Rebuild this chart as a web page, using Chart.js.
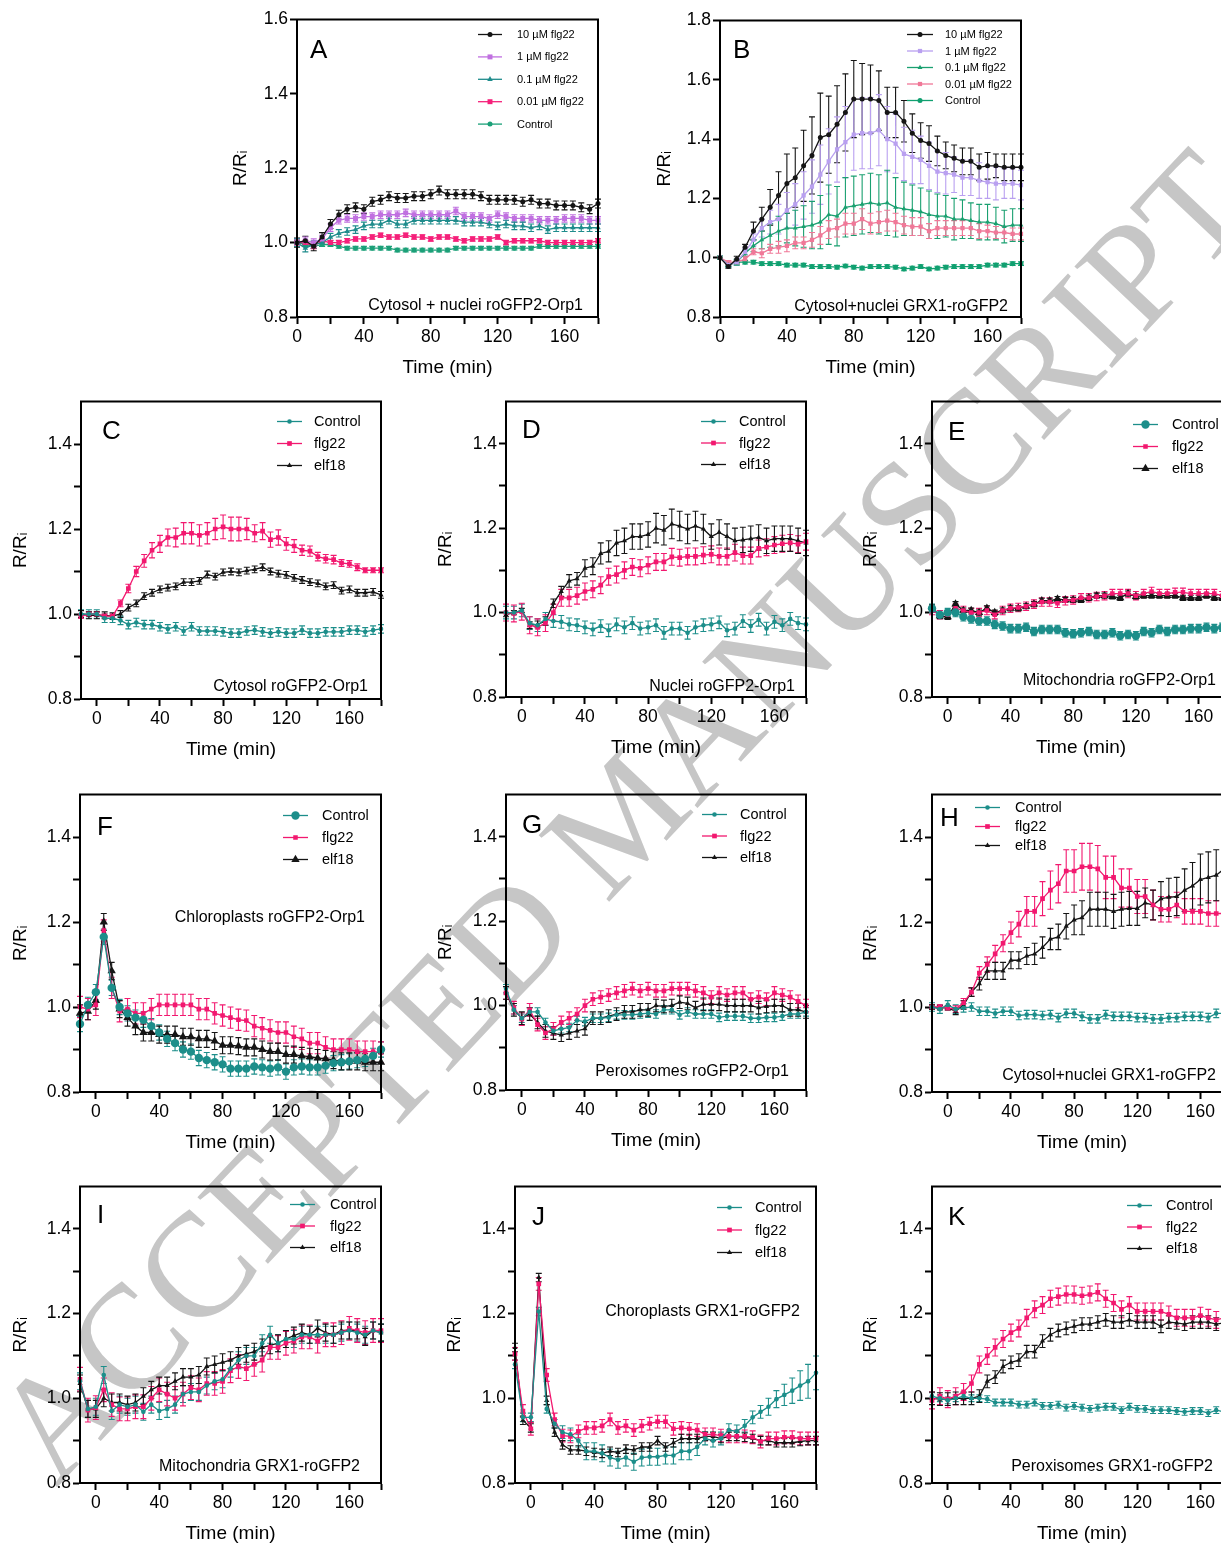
<!DOCTYPE html>
<html>
<head>
<meta charset="utf-8">
<script src="https://cdn.jsdelivr.net/npm/chart.js@4.4.1/dist/chart.umd.min.js"></script>
<style>
  html, body { margin: 0; padding: 0; background: #fff; }
  #page { position: relative; width: 1221px; height: 1546px; overflow: hidden; }
  #page canvas { position: absolute; z-index: 1; }
  #wm { position: absolute; left: 622px; top: 815px; transform: translate(-50%, -50%) rotate(-46.7deg);
        font: 148px "Liberation Serif", serif; color: #c6c6c6; white-space: nowrap; z-index: 0; }
</style>
</head>
<body>
<div id="page"><div id="wm">ACCEPTED MANUSCRIPT</div></div>
<script>
// time points (min)
const tAB = [0,5,10,15,20,25,30,35,40,45,50,55,60,65,70,75,80,85,90,95,100,105,110,115,120,125,130,135,140,145,150,155,160,165,170,175,180];
const tMain = [-10,-5,0,5,10,15,20,25,30,35,40,45,50,55,60,65,70,75,80,85,90,95,100,105,110,115,120,125,130,135,140,145,150,155,160,165,170,175,180];

// tick marks
const xTicks = [0,20,40,60,80,100,120,140,160,180];
const yTicksA = [0.8,1.0,1.2,1.4,1.6];
const yTicksB = [0.8,1.0,1.2,1.4,1.6,1.8];
const yTicksMain = [0.8,0.9,1.0,1.1,1.2,1.3,1.4];

// A: Cytosol + nuclei roGFP2-Orp1
const a10 = [1.00,1.005,0.99,1.015,1.05,1.075,1.09,1.095,1.09,1.11,1.115,1.125,1.12,1.12,1.125,1.125,1.13,1.14,1.13,1.13,1.13,1.13,1.125,1.115,1.115,1.115,1.115,1.11,1.115,1.105,1.105,1.10,1.10,1.10,1.095,1.09,1.105];
const a1 = [1.00,1.005,1.00,1.01,1.04,1.06,1.065,1.065,1.07,1.07,1.075,1.075,1.075,1.08,1.075,1.075,1.075,1.075,1.075,1.085,1.07,1.07,1.07,1.065,1.075,1.07,1.065,1.065,1.065,1.06,1.06,1.06,1.065,1.065,1.065,1.06,1.06];
const a01 = [1.00,0.985,0.995,1.00,1.015,1.025,1.03,1.035,1.045,1.05,1.05,1.06,1.05,1.05,1.06,1.06,1.06,1.06,1.06,1.06,1.055,1.055,1.055,1.05,1.045,1.05,1.045,1.045,1.04,1.045,1.035,1.04,1.04,1.04,1.04,1.04,1.04];
const a001 = [1.00,1.00,0.99,1.005,1.00,1.00,1.005,1.01,1.01,1.015,1.02,1.015,1.015,1.02,1.015,1.015,1.01,1.015,1.015,1.01,1.005,1.01,1.01,1.01,1.015,1.00,1.005,1.005,1.005,1.005,1.00,1.00,1.00,1.00,1.00,1.00,1.005];
const aCtrl = [1.00,0.995,0.99,0.995,0.995,0.99,0.985,0.985,0.985,0.985,0.985,0.985,0.98,0.98,0.98,0.98,0.98,0.98,0.98,0.985,0.985,0.985,0.985,0.985,0.985,0.985,0.985,0.985,0.985,0.99,0.99,0.99,0.99,0.99,0.99,0.99,0.99];

// B: Cytosol+nuclei GRX1-roGFP2
const b10 = [1.00,0.97,0.995,1.035,1.09,1.13,1.17,1.21,1.25,1.27,1.31,1.345,1.405,1.415,1.45,1.49,1.535,1.535,1.535,1.53,1.49,1.49,1.46,1.42,1.395,1.385,1.36,1.345,1.335,1.325,1.325,1.305,1.31,1.31,1.305,1.305,1.305];
const b10Err = [0,0.005,0.01,0.01,0.03,0.04,0.06,0.08,0.1,0.1,0.12,0.13,0.15,0.13,0.13,0.13,0.13,0.12,0.115,0.1,0.085,0.085,0.07,0.065,0.06,0.06,0.05,0.045,0.045,0.045,0.045,0.045,0.045,0.04,0.045,0.045,0.045];
const b1 = [1.00,0.975,0.985,1.02,1.06,1.10,1.12,1.13,1.16,1.18,1.21,1.24,1.28,1.325,1.365,1.39,1.415,1.42,1.42,1.43,1.40,1.385,1.35,1.34,1.33,1.31,1.29,1.285,1.28,1.27,1.27,1.26,1.255,1.25,1.25,1.25,1.245];
const b1Err = [0,0.005,0.01,0.01,0.02,0.03,0.04,0.05,0.06,0.07,0.08,0.09,0.1,0.11,0.11,0.12,0.12,0.12,0.12,0.12,0.11,0.1,0.09,0.09,0.08,0.08,0.07,0.07,0.06,0.06,0.06,0.06,0.055,0.055,0.05,0.05,0.05];
const b01 = [1.00,0.975,0.985,1.015,1.04,1.06,1.075,1.09,1.10,1.10,1.105,1.11,1.12,1.145,1.14,1.17,1.175,1.18,1.185,1.18,1.185,1.17,1.165,1.16,1.155,1.145,1.14,1.14,1.13,1.13,1.125,1.12,1.12,1.115,1.105,1.11,1.11];
const b01Err = [0,0.005,0.01,0.01,0.02,0.03,0.04,0.05,0.05,0.06,0.07,0.08,0.09,0.1,0.1,0.1,0.1,0.1,0.1,0.1,0.11,0.1,0.09,0.085,0.08,0.08,0.075,0.07,0.07,0.065,0.06,0.06,0.06,0.055,0.055,0.055,0.055];
const b001 = [1.00,0.985,0.985,0.995,1.02,1.015,1.03,1.035,1.04,1.05,1.05,1.06,1.075,1.095,1.10,1.115,1.115,1.13,1.115,1.12,1.125,1.12,1.11,1.105,1.105,1.09,1.10,1.10,1.10,1.10,1.10,1.09,1.09,1.085,1.085,1.08,1.08];
const b001Err = [0,0.005,0.005,0.01,0.01,0.015,0.015,0.02,0.02,0.02,0.02,0.025,0.03,0.03,0.03,0.035,0.035,0.035,0.035,0.035,0.035,0.03,0.03,0.03,0.03,0.025,0.025,0.025,0.025,0.025,0.025,0.025,0.02,0.02,0.02,0.02,0.02];
const bCtrl = [1.00,0.975,0.985,0.985,0.985,0.98,0.98,0.98,0.975,0.975,0.975,0.97,0.97,0.97,0.968,0.972,0.968,0.965,0.97,0.97,0.97,0.968,0.962,0.965,0.97,0.962,0.965,0.968,0.97,0.97,0.97,0.97,0.975,0.975,0.975,0.98,0.98];

// C: Cytosol roGFP2-Orp1
const cCtrl = [1.00,1.00,1.00,0.99,0.99,0.985,0.975,0.98,0.975,0.975,0.97,0.965,0.97,0.96,0.97,0.96,0.96,0.96,0.958,0.955,0.955,0.96,0.962,0.958,0.955,0.958,0.955,0.955,0.962,0.955,0.955,0.958,0.958,0.958,0.962,0.962,0.958,0.962,0.965];
const cFlg = [0.995,1.00,1.00,0.995,0.995,1.025,1.06,1.10,1.125,1.15,1.165,1.18,1.18,1.19,1.19,1.185,1.19,1.20,1.205,1.20,1.20,1.20,1.19,1.195,1.175,1.18,1.165,1.16,1.15,1.148,1.135,1.13,1.128,1.12,1.118,1.11,1.103,1.103,1.103];
const cFlgErr = [0.005,0.005,0.005,0.005,0.005,0.008,0.01,0.012,0.015,0.018,0.02,0.02,0.022,0.025,0.025,0.025,0.025,0.025,0.028,0.028,0.028,0.025,0.02,0.02,0.018,0.018,0.015,0.015,0.012,0.012,0.01,0.01,0.01,0.008,0.008,0.008,0.006,0.006,0.006];
const cElf = [1.00,0.997,0.997,0.997,0.995,1.00,1.015,1.025,1.042,1.05,1.058,1.062,1.065,1.075,1.075,1.078,1.093,1.088,1.098,1.10,1.098,1.102,1.105,1.11,1.10,1.095,1.092,1.085,1.08,1.075,1.072,1.065,1.068,1.055,1.058,1.05,1.05,1.052,1.045];

// D: Nuclei roGFP2-Orp1
const dCtrl = [1.00,1.00,1.005,0.975,0.97,0.985,0.98,0.978,0.972,0.97,0.965,0.96,0.968,0.958,0.972,0.965,0.975,0.962,0.965,0.97,0.952,0.962,0.962,0.952,0.965,0.97,0.972,0.977,0.958,0.962,0.98,0.968,0.983,0.962,0.978,0.97,0.985,0.975,0.972];
const dFlg = [1.00,0.998,1.002,0.97,0.965,0.975,1.00,1.035,1.035,1.04,1.05,1.055,1.065,1.085,1.09,1.10,1.108,1.105,1.112,1.12,1.12,1.132,1.13,1.133,1.133,1.136,1.138,1.133,1.133,1.142,1.135,1.135,1.152,1.155,1.16,1.163,1.165,1.162,1.168];
const dElf = [0.995,1.00,1.005,0.97,0.972,0.98,1.022,1.05,1.075,1.08,1.105,1.11,1.14,1.145,1.165,1.17,1.18,1.18,1.185,1.20,1.195,1.21,1.205,1.198,1.205,1.198,1.18,1.19,1.18,1.17,1.172,1.175,1.178,1.17,1.175,1.175,1.175,1.17,1.165];
const dElfErr = [0.005,0.005,0.005,0.008,0.008,0.01,0.01,0.012,0.015,0.015,0.02,0.02,0.025,0.025,0.03,0.03,0.03,0.03,0.03,0.035,0.035,0.035,0.035,0.035,0.035,0.035,0.03,0.03,0.03,0.03,0.03,0.03,0.03,0.03,0.03,0.03,0.03,0.03,0.03];

// E: Mitochondria roGFP2-Orp1
const eCtrl = [1.01,0.995,1.00,1.00,0.99,0.985,0.98,0.98,0.972,0.968,0.962,0.962,0.965,0.955,0.96,0.96,0.96,0.952,0.95,0.952,0.955,0.948,0.948,0.952,0.945,0.948,0.945,0.955,0.952,0.96,0.955,0.96,0.96,0.962,0.962,0.965,0.962,0.965,0.965];
const eFlg = [1.005,0.995,0.995,1.01,1.005,1.00,1.00,1.005,0.995,1.005,1.01,1.012,1.015,1.02,1.025,1.025,1.022,1.028,1.03,1.035,1.035,1.038,1.04,1.045,1.045,1.045,1.04,1.045,1.05,1.045,1.045,1.048,1.048,1.045,1.045,1.045,1.045,1.04,1.04];
const eElf = [1.012,0.992,0.99,1.02,1.005,1.005,1.00,1.01,1.00,1.005,1.01,1.01,1.015,1.02,1.028,1.028,1.032,1.03,1.03,1.03,1.035,1.04,1.04,1.038,1.035,1.045,1.038,1.04,1.04,1.04,1.04,1.04,1.035,1.035,1.035,1.04,1.035,1.035,1.035];

// F: Chloroplasts roGFP2-Orp1
const fCtrl = [0.96,1.005,1.035,1.165,1.045,1.00,0.985,0.975,0.97,0.955,0.94,0.925,0.915,0.90,0.895,0.88,0.875,0.87,0.865,0.855,0.855,0.855,0.86,0.858,0.855,0.858,0.848,0.858,0.86,0.858,0.858,0.862,0.868,0.87,0.872,0.875,0.878,0.885,0.90];
const fFlg = [1.00,0.995,1.005,1.18,1.045,0.99,0.995,0.985,0.985,0.995,1.005,1.005,1.005,1.005,1.005,0.995,0.995,0.985,0.98,0.975,0.97,0.968,0.955,0.95,0.945,0.94,0.94,0.93,0.925,0.915,0.915,0.905,0.90,0.90,0.90,0.895,0.895,0.895,0.893];
const fElf = [0.985,0.99,1.015,1.20,1.085,0.995,0.975,0.955,0.94,0.94,0.935,0.935,0.935,0.93,0.93,0.925,0.925,0.92,0.91,0.91,0.908,0.905,0.905,0.90,0.895,0.895,0.888,0.888,0.885,0.883,0.88,0.878,0.875,0.872,0.872,0.872,0.87,0.87,0.87];

// G: Peroxisomes roGFP2-Orp1
const gCtrl = [1.04,0.99,0.97,0.985,0.985,0.96,0.94,0.945,0.948,0.965,0.962,0.97,0.97,0.972,0.978,0.978,0.978,0.98,0.982,0.98,0.99,0.99,0.978,0.985,0.98,0.98,0.98,0.972,0.975,0.975,0.975,0.97,0.97,0.972,0.972,0.975,0.98,0.98,0.985];
const gFlg = [1.03,0.995,0.968,0.99,0.955,0.935,0.945,0.96,0.97,0.98,1.00,1.015,1.02,1.025,1.03,1.035,1.04,1.035,1.04,1.035,1.035,1.04,1.04,1.04,1.035,1.03,1.02,1.03,1.025,1.03,1.03,1.015,1.02,1.015,1.03,1.025,1.02,1.01,1.00];
const gElf = [1.03,0.99,0.97,0.98,0.96,0.94,0.935,0.93,0.935,0.94,0.945,0.97,0.97,0.975,0.98,0.985,0.985,0.99,0.99,1.00,0.998,1.00,1.008,1.005,0.995,1.003,1.003,1.003,1.00,1.00,1.00,1.00,0.995,0.998,1.00,1.00,0.99,0.99,0.985];

// H: Cytosol+nuclei GRX1-roGFP2
const hCtrl = [1.00,0.995,1.005,0.995,0.998,1.00,0.99,0.99,0.985,0.99,0.99,0.98,0.982,0.982,0.98,0.982,0.975,0.985,0.985,0.978,0.972,0.972,0.982,0.978,0.978,0.978,0.975,0.975,0.972,0.972,0.975,0.975,0.978,0.978,0.978,0.975,0.985,0.985,0.985];
const hFlg = [1.00,1.00,0.998,0.995,1.01,1.035,1.08,1.10,1.125,1.15,1.175,1.195,1.225,1.225,1.255,1.275,1.29,1.32,1.32,1.33,1.33,1.325,1.305,1.305,1.28,1.28,1.26,1.26,1.24,1.23,1.23,1.24,1.225,1.225,1.225,1.22,1.22,1.22,1.22];
const hFlgErr = [0.005,0.005,0.005,0.008,0.01,0.01,0.015,0.018,0.02,0.02,0.025,0.03,0.035,0.035,0.04,0.045,0.045,0.05,0.05,0.055,0.055,0.055,0.05,0.05,0.045,0.045,0.04,0.04,0.035,0.03,0.03,0.03,0.03,0.03,0.03,0.03,0.03,0.03,0.03];
const hElf = [1.00,0.998,0.998,0.99,1.005,1.035,1.055,1.085,1.085,1.085,1.11,1.11,1.12,1.125,1.14,1.16,1.165,1.19,1.205,1.21,1.23,1.23,1.23,1.225,1.23,1.232,1.232,1.245,1.24,1.255,1.258,1.26,1.275,1.285,1.30,1.305,1.31,1.325,1.335];
const hElfErr = [0.005,0.005,0.005,0.008,0.01,0.01,0.015,0.02,0.02,0.02,0.02,0.02,0.02,0.025,0.025,0.025,0.03,0.03,0.035,0.04,0.04,0.04,0.04,0.04,0.04,0.04,0.04,0.035,0.035,0.04,0.045,0.045,0.05,0.055,0.06,0.06,0.06,0.06,0.06];

// I: Mitochondria GRX1-roGFP2
const iCtrl = [1.04,0.975,0.98,1.055,0.97,0.985,0.98,0.985,0.968,0.985,0.97,0.975,0.985,1.01,1.015,1.015,1.03,1.04,1.045,1.07,1.09,1.10,1.10,1.13,1.15,1.13,1.14,1.14,1.15,1.15,1.15,1.15,1.15,1.155,1.16,1.155,1.15,1.16,1.155];
const iFlg = [1.045,0.972,0.978,1.02,0.985,0.975,0.975,0.98,0.98,1.00,1.02,1.01,1.00,1.01,1.025,1.02,1.035,1.035,1.04,1.065,1.075,1.07,1.08,1.09,1.12,1.12,1.13,1.135,1.145,1.145,1.135,1.15,1.15,1.155,1.165,1.16,1.155,1.16,1.16];
const iElf = [1.035,0.975,0.975,1.00,0.99,0.99,0.985,0.99,1.005,1.02,1.03,1.03,1.04,1.05,1.05,1.055,1.075,1.08,1.085,1.09,1.10,1.105,1.11,1.12,1.125,1.13,1.14,1.148,1.155,1.15,1.165,1.155,1.15,1.16,1.16,1.16,1.145,1.16,1.155];

// J: Choroplasts GRX1-roGFP2
const jCtrl = [1.08,0.955,0.955,1.205,0.975,0.94,0.92,0.915,0.90,0.875,0.875,0.87,0.86,0.855,0.86,0.85,0.86,0.862,0.862,0.865,0.865,0.875,0.875,0.885,0.905,0.90,0.905,0.925,0.922,0.935,0.955,0.968,0.98,0.998,1.008,1.018,1.03,1.04,1.06];
const jCtrlErr = [0.01,0.01,0.01,0.01,0.01,0.01,0.015,0.015,0.015,0.02,0.02,0.02,0.02,0.02,0.02,0.02,0.02,0.02,0.02,0.02,0.02,0.02,0.02,0.02,0.015,0.015,0.015,0.015,0.015,0.015,0.015,0.015,0.02,0.02,0.025,0.03,0.035,0.04,0.04];
const jFlg = [1.105,0.97,0.928,1.27,1.055,0.95,0.912,0.91,0.922,0.93,0.93,0.935,0.95,0.93,0.935,0.925,0.935,0.94,0.945,0.945,0.928,0.93,0.928,0.925,0.915,0.915,0.912,0.91,0.91,0.91,0.908,0.898,0.905,0.905,0.908,0.908,0.905,0.905,0.905];
const jElf = [1.12,0.948,0.93,1.285,0.995,0.92,0.89,0.878,0.878,0.875,0.872,0.87,0.875,0.872,0.88,0.878,0.885,0.885,0.90,0.885,0.895,0.905,0.905,0.905,0.91,0.91,0.905,0.91,0.91,0.908,0.905,0.90,0.90,0.895,0.895,0.895,0.898,0.90,0.90];

// K: Peroxisomes GRX1-roGFP2
const kCtrl = [1.005,1.00,0.995,1.00,1.005,1.00,1.00,0.998,0.99,0.99,0.99,0.985,0.985,0.99,0.982,0.982,0.985,0.978,0.982,0.978,0.975,0.978,0.98,0.98,0.972,0.98,0.975,0.975,0.972,0.972,0.972,0.97,0.968,0.97,0.97,0.965,0.972,0.968,0.968];
const kFlg = [0.995,1.005,0.998,1.005,1.015,1.035,1.08,1.10,1.12,1.14,1.155,1.165,1.19,1.21,1.22,1.235,1.24,1.245,1.245,1.242,1.245,1.25,1.235,1.225,1.21,1.22,1.205,1.205,1.205,1.205,1.198,1.19,1.19,1.19,1.195,1.19,1.185,1.19,1.19];
const kElf = [1.00,0.998,0.998,1.00,1.00,1.00,1.005,1.04,1.05,1.075,1.085,1.09,1.11,1.11,1.135,1.15,1.16,1.165,1.17,1.175,1.175,1.18,1.185,1.18,1.18,1.185,1.18,1.18,1.18,1.17,1.18,1.178,1.175,1.18,1.18,1.18,1.175,1.178,1.178];

const FONT = '"Liberation Sans", Arial, Helvetica, sans-serif';
Chart.defaults.font.family = FONT;
Chart.defaults.color = '#000';

const TEAL = '#1c8e8a', PINK = '#f2186f', BLACK = '#151515';

function trio(ctrl, flg, elf, ctrlErr, flgErr, elfErr, big) {
  return [
    { label: 'Control', y: ctrl, err: ctrlErr, color: TEAL, style: 'circle', r: big ? 4.2 : 2.3 },
    { label: 'flg22', y: flg, err: flgErr, color: PINK, style: 'rect', r: big ? 3.2 : 3.3 },
    { label: 'elf18', y: elf, err: elfErr, color: BLACK, style: 'triangle', r: big ? 4.8 : 3 }
  ];
}

const panels = [
  { letter: 'A', box: [297, 17, 598, 317], time: tAB, xmin: 0, ymin: 0.8, ymax: 1.6, yTicks: yTicksA,
    letterPos: [13, 38], note: 'Cytosol + nuclei roGFP2-Orp1', notePos: [15, 290], yTitlePad: 12,
    legend: { dx: 181, dy: 15, sp: 22.4, len: 24, gap: 39, size: 11 },
    series: [
      { label: '10 µM flg22', y: a10, err: 0.012, color: BLACK, style: 'circle', r: 2.5 },
      { label: '1 µM flg22', y: a1, err: 0.01, color: '#c070e0', style: 'rect', r: 3.5 },
      { label: '0.1 µM flg22', y: a01, err: 0.01, color: '#1f8c8c', style: 'triangle', r: 3.2 },
      { label: '0.01 µM flg22', y: a001, err: 0.006, color: '#f5207a', style: 'rect', r: 3.5 },
      { label: 'Control', y: aCtrl, err: 0.005, color: '#1ba078', style: 'circle', r: 2.5 }
    ] },
  { letter: 'B', box: [720, 18, 1021, 317], time: tAB, xmin: 0, ymin: 0.8, ymax: 1.8, yTicks: yTicksB,
    letterPos: [13, 37], note: 'Cytosol+nuclei GRX1-roGFP2', notePos: [13, 290], yTitlePad: 13.5,
    legend: { dx: 187, dy: 14, sp: 16.5, len: 26, gap: 38, size: 11 },
    series: [
      { label: '10 µM flg22', y: b10, err: b10Err, color: BLACK, style: 'circle', r: 2.5 },
      { label: '1 µM flg22', y: b1, err: b1Err, color: '#b9a0f0', style: 'rect', r: 3 },
      { label: '0.1 µM flg22', y: b01, err: b01Err, color: '#1aa070', style: 'triangle', r: 2.8 },
      { label: '0.01 µM flg22', y: b001, err: b001Err, color: '#f07898', style: 'rect', r: 3 },
      { label: 'Control', y: bCtrl, err: 0.006, color: '#10a070', style: 'circle', r: 2.5 }
    ] },
  { letter: 'C', box: [81, 399, 381, 699], letterPos: [21, 37], note: 'Cytosol roGFP2-Orp1', notePos: [13, 289], yTitlePad: 8.5,
    legend: { dx: 196, dy: 20, sp: 22, len: 25, gap: 37, size: 14.5 },
    series: trio(cCtrl, cFlg, cElf, 0.01, cFlgErr, 0.008) },
  { letter: 'D', box: [506, 399, 806, 697], letterPos: [16, 36], note: 'Nuclei roGFP2-Orp1', notePos: [11, 289], yTitlePad: 8,
    legend: { dx: 195, dy: 20, sp: 21.5, len: 25, gap: 38, size: 14.5 },
    series: trio(dCtrl, dFlg, dElf, 0.015, 0.02, dElfErr) },
  { letter: 'E', box: [932, 399, 1230, 697], letterPos: [16, 38], note: 'Mitochondria roGFP2-Orp1', notePos: [14, 283], yTitlePad: 7,
    legend: { dx: 201, dy: 23, sp: 22, len: 25, gap: 39, size: 14.5 },
    series: trio(eCtrl, eFlg, eElf, 0.01, 0.01, 0.006, true) },
  { letter: 'F', box: [80, 792, 381, 1092], letterPos: [17, 40], note: 'Chloroplasts roGFP2-Orp1', notePos: [16, 127], yTitlePad: 9.5,
    legend: { dx: 203, dy: 21, sp: 22, len: 25, gap: 39, size: 14.5 },
    series: trio(fCtrl, fFlg, fElf, 0.018, 0.025, 0.02, true) },
  { letter: 'G', box: [506, 792, 806, 1090], letterPos: [16, 38], note: 'Peroxisomes roGFP2-Orp1', notePos: [17, 281], yTitlePad: 8,
    legend: { dx: 196, dy: 20, sp: 21.5, len: 25, gap: 38, size: 14.5 },
    series: trio(gCtrl, gFlg, gElf, 0.01, 0.015, 0.015) },
  { letter: 'H', box: [932, 792, 1232, 1092], letterPos: [8, 31], note: 'Cytosol+nuclei GRX1-roGFP2', notePos: [16, 285], yTitlePad: 7,
    legend: { dx: 43, dy: 13, sp: 19, len: 25, gap: 40, size: 14.5 },
    series: trio(hCtrl, hFlg, hElf, 0.01, hFlgErr, hElfErr) },
  { letter: 'I', box: [80, 1184, 381, 1483], letterPos: [17, 36], note: 'Mitochondria GRX1-roGFP2', notePos: [21, 284], yTitlePad: 9.5,
    legend: { dx: 210, dy: 18, sp: 21.5, len: 25, gap: 40, size: 14.5 },
    series: trio(iCtrl, iFlg, iElf, 0.02, 0.028, 0.02) },
  { letter: 'J', box: [515, 1184, 816, 1483], letterPos: [17, 38], note: 'Choroplasts GRX1-roGFP2', notePos: [16, 129], yTitlePad: 8,
    legend: { dx: 202, dy: 21, sp: 22.5, len: 25, gap: 38, size: 14.5 },
    series: trio(jCtrl, jFlg, jElf, jCtrlErr, 0.015, 0.01) },
  { letter: 'K', box: [932, 1184, 1232, 1483], letterPos: [16, 38], note: 'Peroxisomes GRX1-roGFP2', notePos: [19, 284], yTitlePad: 7,
    legend: { dx: 195, dy: 19, sp: 21.5, len: 25, gap: 39, size: 14.5 },
    series: trio(kCtrl, kFlg, kElf, 0.008, 0.02, 0.015) }
];

function drawMark(ctx, style, x, y, r) {
  ctx.beginPath();
  if (style === 'circle') {
    ctx.arc(x, y, r, 0, Math.PI * 2);
  } else if (style === 'rect') {
    const s = r * Math.SQRT1_2;
    ctx.rect(x - s, y - s, 2 * s, 2 * s);
  } else {
    ctx.moveTo(x, y - r);
    ctx.lineTo(x + r * 0.866, y + r * 0.5);
    ctx.lineTo(x - r * 0.866, y + r * 0.5);
    ctx.closePath();
  }
  ctx.fill();
}

// error bars, frame, panel letter, inner label and legend
function decoPlugin(p) {
  return {
    id: 'deco',
    beforeDatasetsDraw(chart) {
      const { ctx, scales: { x, y } } = chart;
      ctx.save();
      ctx.lineWidth = 1.1;
      chart.data.datasets.forEach(ds => {
        ctx.strokeStyle = ds.borderColor;
        ctx.beginPath();
        ds.data.forEach((pt, i) => {
          const e = Array.isArray(ds.err) ? ds.err[i] : ds.err;
          if (!e) return;
          const px = x.getPixelForValue(pt.x);
          const y1 = y.getPixelForValue(pt.y + e), y2 = y.getPixelForValue(pt.y - e);
          ctx.moveTo(px, y1); ctx.lineTo(px, y2);
          ctx.moveTo(px - 3, y1); ctx.lineTo(px + 3, y1);
          ctx.moveTo(px - 3, y2); ctx.lineTo(px + 3, y2);
        });
        ctx.stroke();
      });
      ctx.restore();
    },
    afterDraw(chart) {
      const { ctx, chartArea: a } = chart;
      ctx.save();
      ctx.strokeStyle = '#000';
      ctx.lineWidth = 2;
      ctx.strokeRect(a.left, a.top, a.right - a.left, a.bottom - a.top);

      ctx.fillStyle = '#000';
      ctx.textBaseline = 'alphabetic';
      ctx.font = '26px ' + FONT;
      ctx.textAlign = 'left';
      ctx.fillText(p.letter, a.left + p.letterPos[0], a.top + p.letterPos[1]);

      ctx.font = '16px ' + FONT;
      ctx.textAlign = 'right';
      ctx.fillText(p.note, a.right - p.notePos[0], a.top + p.notePos[1]);

      const lg = p.legend;
      ctx.font = lg.size + 'px ' + FONT;
      ctx.textAlign = 'left';
      ctx.textBaseline = 'middle';
      chart.data.datasets.forEach((ds, i) => {
        const yy = a.top + lg.dy + i * lg.sp, x0 = a.left + lg.dx;
        ctx.strokeStyle = ds.borderColor;
        ctx.lineWidth = 1.3;
        ctx.beginPath(); ctx.moveTo(x0, yy); ctx.lineTo(x0 + lg.len, yy); ctx.stroke();
        ctx.fillStyle = ds.borderColor;
        drawMark(ctx, ds.pointStyle, x0 + lg.len / 2, yy, ds.pointRadius);
        ctx.fillStyle = '#000';
        ctx.fillText(ds.label, x0 + lg.gap, yy + 0.5);
      });
      ctx.restore();
    }
  };
}

function makePanel(p) {
  const ML = 80, MT = 10, MR = 10, MB = 75;
  const W = p.box[2] - p.box[0], H = p.box[3] - p.box[1];
  const cv = document.createElement('canvas');
  cv.width = W + ML + MR;
  cv.height = H + MT + MB;
  cv.style.left = (p.box[0] - ML) + 'px';
  cv.style.top = (p.box[1] - MT) + 'px';
  cv.style.width = cv.width + 'px';
  cv.style.height = cv.height + 'px';
  document.getElementById('page').appendChild(cv);

  const time = p.time || tMain;
  const yTicks = p.yTicks || yTicksMain;
  const datasets = p.series.map(s => ({
    label: s.label,
    data: time.map((t, i) => ({ x: t, y: s.y[i] })),
    err: s.err,
    borderColor: s.color,
    backgroundColor: s.color,
    pointBackgroundColor: s.color,
    pointBorderColor: s.color,
    pointStyle: s.style,
    pointRadius: s.r,
    pointBorderWidth: 0,
    borderWidth: 1.3,
    tension: 0,
    clip: 8
  }));

  const axisGrid = { drawOnChartArea: false, drawTicks: true, tickLength: 7, tickWidth: 2, tickColor: '#000' };
  const axisBorder = { display: true, color: '#000', width: 2 };

  new Chart(cv, {
    type: 'line',
    data: { datasets },
    options: {
      responsive: false,
      animation: false,
      events: [],
      devicePixelRatio: 1,
      layout: { padding: { left: 0, top: MT, right: MR, bottom: 0 } },
      plugins: { legend: { display: false }, tooltip: { enabled: false } },
      scales: {
        x: {
          type: 'linear', min: p.xmin !== undefined ? p.xmin : -10, max: 180,
          afterBuildTicks: s => { s.ticks = xTicks.map(v => ({ value: v })); },
          afterFit: s => { s.height = MB; },
          ticks: { callback: v => (v % 40 === 0 && v <= 160) ? String(v) : '', font: { size: 17.5 }, color: '#000', padding: 3, maxRotation: 0, autoSkip: false },
          grid: axisGrid, border: axisBorder,
          title: { display: true, text: 'Time (min)', font: { size: 19 }, color: '#000', padding: { top: 0, bottom: 12.6 } }
        },
        y: {
          type: 'linear', min: p.ymin || 0.8, max: p.ymax || 1.5,
          afterBuildTicks: s => { s.ticks = yTicks.map(v => ({ value: v })); },
          afterFit: s => { s.width = ML; },
          ticks: {
            callback: v => (p.yTicks || Math.round(v * 10) % 2 === 0) ? v.toFixed(1) : '',
            font: { size: 17.5 }, color: '#000', padding: 2, autoSkip: false
          },
          grid: axisGrid, border: axisBorder,
          title: { display: true, text: 'R/Rᵢ', font: { size: 19 }, color: '#000', padding: { top: p.yTitlePad, bottom: 0 } }
        }
      }
    },
    plugins: [decoPlugin(p)]
  });
}

panels.forEach(makePanel);
</script>
</body>
</html>
